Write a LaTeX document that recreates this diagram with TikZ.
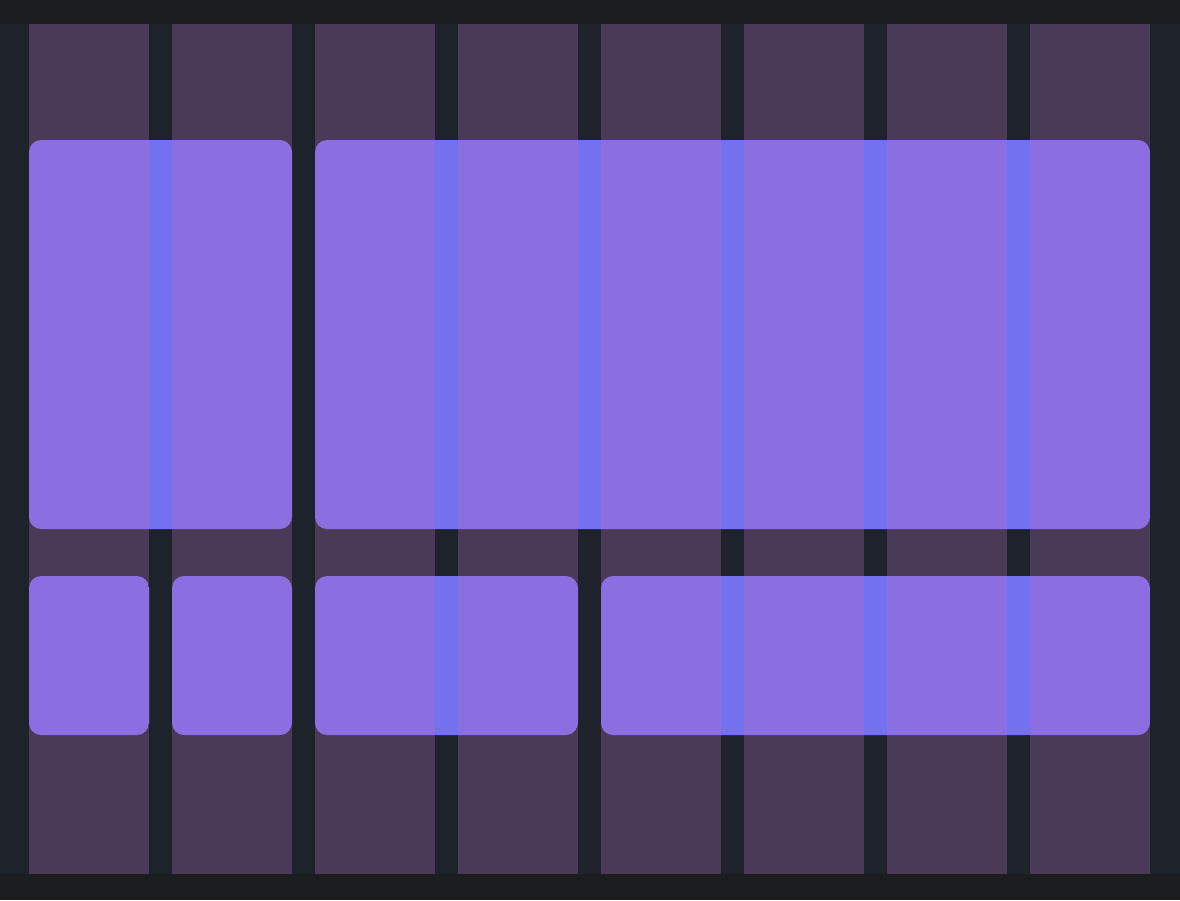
\documentclass[tikz,border=0pt]{standalone}
\definecolor{barcol}{HTML}{1C1D1E}
\definecolor{bgcol}{HTML}{1E232B}
\definecolor{colcol}{HTML}{4B3A57}
\definecolor{boxcol}{HTML}{8B6FE0}
\definecolor{gutcol}{HTML}{7471F0}
\begin{document}
\begin{tikzpicture}[x=1pt,y=-1pt,
		area/.style={fill=boxcol,rounded corners=12pt},
		gutter/.style={fill=gutcol}]
							\useasboundingbox (0,0) rectangle (1180,900);
							\fill[barcol] (0,0) rectangle (1180,900);
							\fill[bgcol] (0,24) rectangle (1180,874);
							% grid columns
							\foreach \i in {0,...,7}
								\fill[colcol] (29+143*\i,24) rectangle (149+143*\i,874);
							% boxes, with the gutters showing through
							\foreach \xa/\ya/\xb/\yb in {29/140/292/529, 315/140/1150/529,
									29/576/149/735, 172/576/292/735, 315/576/578/735, 601/576/1150/735}{
								\begin{scope}
									\path[clip,rounded corners=12pt] (\xa,\ya) rectangle (\xb,\yb);
									\fill[area] (\xa,\ya) rectangle (\xb,\yb);
									\foreach \j in {0,...,6}
										\fill[gutter] (149+143*\j,\ya) rectangle (172+143*\j,\yb);
								\end{scope}
							}
\end{tikzpicture}
\end{document}
